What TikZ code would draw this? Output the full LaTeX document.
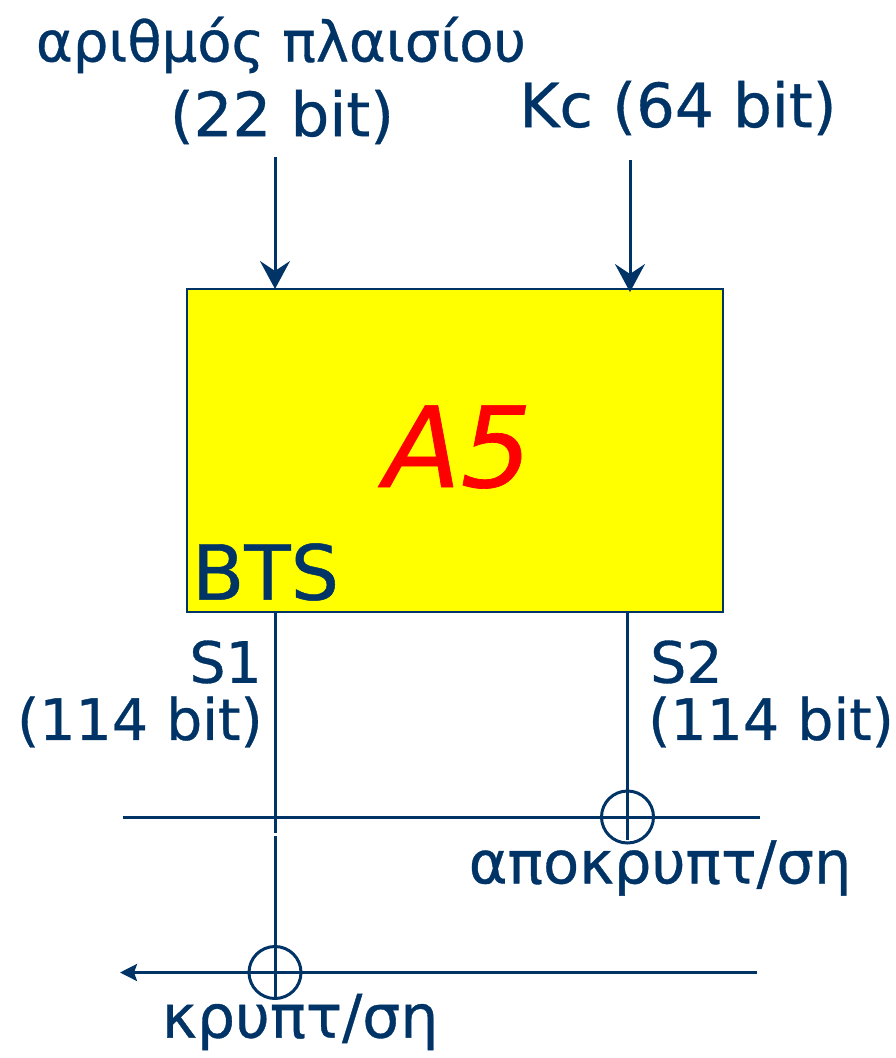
\documentclass[tikz,border=0pt]{standalone}
\usepackage{fontspec}
\setmainfont{DejaVu Sans}[BoldFont={DejaVu Sans},BoldFeatures={FakeBold=0.6},BoldItalicFont={DejaVu Sans Oblique},BoldItalicFeatures={FakeBold=0.6}]
\usetikzlibrary{arrows.meta}
\definecolor{navy}{HTML}{003366}
\definecolor{boxyellow}{HTML}{FFFF00}
\begin{document}
\begin{tikzpicture}[x=1pt,y=-1pt,
  lbl/.style={text=navy,inner sep=0pt,font=\fontsize{57}{64}\selectfont\bfseries},
  wire/.style={draw=navy,line width=3pt},
  bigarrow/.style={wire,-{Stealth[length=28pt,width=30pt,inset=10pt]}},
  smallarrow/.style={wire,-{Stealth[length=17pt,width=17pt,inset=3pt]}},
  xorc/.style={circle,draw=navy,line width=3pt,minimum size=52pt,inner sep=0pt}]
\useasboundingbox (0,0) rectangle (896,1058);
% box
\node[draw=navy,line width=2.5pt,fill=boxyellow,minimum width=536pt,minimum height=323pt,inner sep=0pt] (a5) at (455,450.5) {};
\node[text=red,inner sep=0pt,font=\fontsize{112}{120}\selectfont\bfseries\itshape] (a5t) at (458,447) {A5};
\node[lbl,font=\fontsize{76}{84}\selectfont\bfseries,anchor=west] (bts) at (192,572) {BTS};
% top labels
\node[lbl,font=\fontsize{56}{64}\selectfont\bfseries] (fr) at (281,45) {αριθμός πλαισίου};
\node[lbl,font=\fontsize{61}{64}\selectfont\bfseries] (fr2) at (282,117) {(22 bit)};
\node[lbl,font=\fontsize{61}{64}\selectfont\bfseries] (kc) at (678,108) {Kc (64 bit)};
\coordinate (t1) at (275,157);
\coordinate (t2) at (630,160);
\draw[bigarrow] (t1) -- (275,289);
\draw[bigarrow] (t2) -- (630,292);
% outputs
\node[lbl,anchor=east] (s1) at (262,662) {S1};
\node[lbl,anchor=east] (s1b) at (263,722) {(114 bit)};
\node[lbl,anchor=west] (s2) at (650,662) {S2};
\node[lbl,anchor=west] (s2b) at (648,722) {(114 bit)};
% xor nodes
\node[xorc] (x2) at (627.5,817) {};
\node[xorc] (x1) at (275,972.5) {};
\coordinate (h1l) at (123,817);
\coordinate (h1r) at (760,817);
\coordinate (h2l) at (120,972.5);
\coordinate (h2r) at (757,972.5);
\coordinate (v1a) at (275,833);
\coordinate (v1b) at (275,836);
\coordinate (v1e) at (275,1000);
\coordinate (v2e) at (627.5,840);
\draw[wire] (h1l) -- (h1r);
\draw[smallarrow] (h2r) -- (h2l);
\draw[wire] (a5.south -| x1) -- (v1a);
\draw[wire] (v1b) -- (v1e);
\draw[wire] (a5.south -| x2) -- (v2e);
\node[lbl,font=\fontsize{59}{64}\selectfont\bfseries] (dec) at (660,868) {αποκρυπτ/ση};
\node[lbl,font=\fontsize{60}{64}\selectfont\bfseries] (enc) at (300,1022) {κρυπτ/ση};
\end{tikzpicture}
\end{document}
